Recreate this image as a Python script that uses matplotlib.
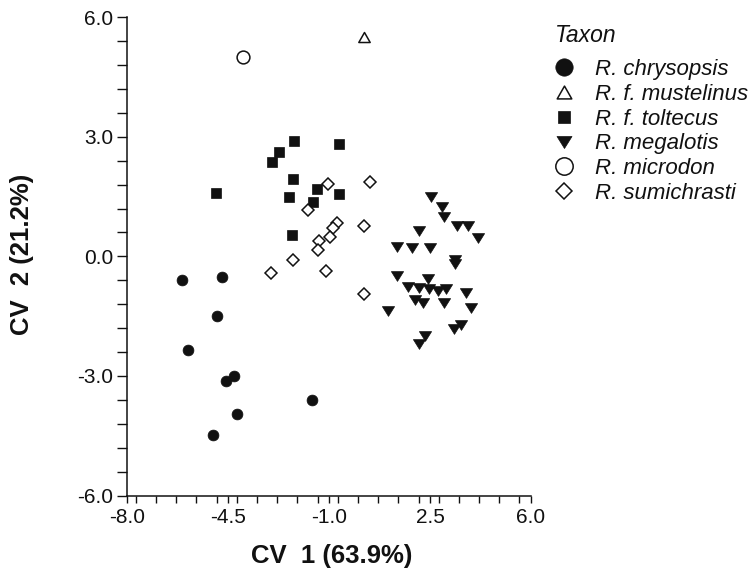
import matplotlib
matplotlib.use("Agg")
import matplotlib.pyplot as plt
from matplotlib.lines import Line2D
from matplotlib.path import Path
from matplotlib.ticker import MultipleLocator

plt.rcParams["font.family"] = ["Liberation Sans", "DejaVu Sans"]

# CV scores, one pair of lists per taxon
chrysopsis_x = [-6.11, -4.73, -4.88, -5.88, -4.29, -4.59, -4.19, -5.02, -1.59]
chrysopsis_y = [-0.59, -0.51, -1.50, -2.35, -3.00, -3.13, -3.96, -4.48, -3.60]

mustelinus_x = [0.22]
mustelinus_y = [5.50]

toltecus_x = [-2.22, -2.74, -2.97, -0.65, -2.24, -4.92, -2.39, -1.41, -0.65, -1.55, -2.29]
toltecus_y = [2.90, 2.61, 2.36, 2.81, 1.94, 1.58, 1.50, 1.68, 1.57, 1.36, 0.54]

megalotis_x = [2.53, 2.90, 2.99, 3.42, 3.80, 4.17, 2.12, 1.34, 1.86, 2.50,
               3.36, 3.38, 1.34, 2.44, 1.74, 2.11, 2.47, 2.78, 3.07, 3.73,
               1.98, 2.26, 2.98, 3.92, 1.03, 3.57, 3.33, 2.32, 2.12]
megalotis_y = [1.48, 1.23, 0.98, 0.76, 0.76, 0.45, 0.64, 0.24, 0.22, 0.22,
               -0.09, -0.20, -0.49, -0.57, -0.76, -0.79, -0.83, -0.87, -0.83, -0.91,
               -1.09, -1.16, -1.16, -1.30, -1.37, -1.72, -1.82, -1.99, -2.21]

microdon_x = [-3.98]
microdon_y = [5.01]

sumichrasti_x = [-1.03, 0.42, -1.72, -0.72, -0.86, -0.97, 0.21, -1.35, -1.38,
                 -2.24, -3.03, -1.11, 0.21]
sumichrasti_y = [1.82, 1.87, 1.16, 0.85, 0.72, 0.49, 0.76, 0.39, 0.16,
                 -0.10, -0.42, -0.37, -0.94]

taxa = ["R. chrysopsis", "R. f. mustelinus", "R. f. toltecus",
        "R. megalotis", "R. microdon", "R. sumichrasti"]

x_ticks = [-8.0, -4.5, -1.0, 2.5, 6.0]
y_ticks = [-6.0, -3.0, 0.0, 3.0, 6.0]

INK = "#111111"
# slightly squat triangles, closed so the open one gets all three edges
TRI_DOWN = Path([(-1, 0.8), (1, 0.8), (0, -0.8), (-1, 0.8)], closed=True)
TRI_UP = Path([(-1, -0.88), (1, -0.88), (0, 0.88), (-1, -0.88)], closed=True)

# marker, face colour, size in plot, size in legend
styles = [
    ("o", INK, 7.8, 12.5),
    (TRI_UP, "white", 8.2, 10.5),
    ("s", INK, 7.4, 8.5),
    (TRI_DOWN, INK, 8.8, 10.8),
    ("o", "white", 9.2, 12.5),
    ("D", "white", 6.1, 8.0),
]

series = [
    (chrysopsis_x, chrysopsis_y),
    (mustelinus_x, mustelinus_y),
    (toltecus_x, toltecus_y),
    (megalotis_x, megalotis_y),
    (microdon_x, microdon_y),
    (sumichrasti_x, sumichrasti_y),
]

fig = plt.figure(figsize=(7.54, 5.72), dpi=100)
ax = fig.add_axes([0.1688, 0.1337, 0.5354, 0.8361])

handles = []
for (xs, ys), (marker, face, size, leg_size) in zip(series, styles):
    edge_w = 0.5 if face == INK else 1.1
    ax.plot(xs, ys, linestyle="none", marker=marker, markersize=size,
            markerfacecolor=face, markeredgecolor=INK, markeredgewidth=edge_w)
    handles.append(Line2D([], [], linestyle="none", marker=marker,
                          markersize=leg_size, markerfacecolor=face,
                          markeredgecolor=INK, markeredgewidth=edge_w))

ax.set_xlim(-8, 6)
ax.set_ylim(-6, 6)
ax.set_xticks(x_ticks)
ax.set_xticklabels([f"{t:.1f}" for t in x_ticks])
ax.set_yticks(y_ticks)
ax.set_yticklabels([f"{t:.1f}" for t in y_ticks])
ax.xaxis.set_minor_locator(MultipleLocator(0.7))
ax.yaxis.set_minor_locator(MultipleLocator(0.6))

for side in ["top", "right"]:
    ax.spines[side].set_visible(False)
for side in ["left", "bottom"]:
    ax.spines[side].set_linewidth(1.1)
    ax.spines[side].set_color(INK)

ax.tick_params(axis="x", which="both", direction="out", length=5.3, width=1.0,
               pad=3.5, labelsize=15, colors=INK)
ax.tick_params(axis="y", which="both", direction="out", length=7.0, width=1.0,
               pad=3.0, labelsize=15, colors=INK)

fig.text(331.7 / 754, 1 - 562.7 / 572, "CV  1 (63.9%)", ha="center",
         va="baseline", fontsize=18.5, fontweight="bold", color=INK)
fig.text(22.5 / 754, 1 - 254.3 / 572, "CV  2 (21.2%)", ha="center",
         va="center", rotation=90, fontsize=18.5, fontweight="bold", color=INK)

fig.text(555 / 754, 1 - 41.7 / 572, "Taxon", ha="left", va="baseline",
         fontsize=16.5, style="italic", color=INK)
leg = fig.legend(handles, taxa, loc="upper left",
                 bbox_to_anchor=(555 / 754, 1 - 59 / 572),
                 frameon=False, borderpad=0, borderaxespad=0,
                 handlelength=0.81, handletextpad=0.99, labelspacing=0.17,
                 prop={"size": 16, "style": "italic"})
for txt in leg.get_texts():
    txt.set_color(INK)

fig.savefig("out.png", dpi=100)
